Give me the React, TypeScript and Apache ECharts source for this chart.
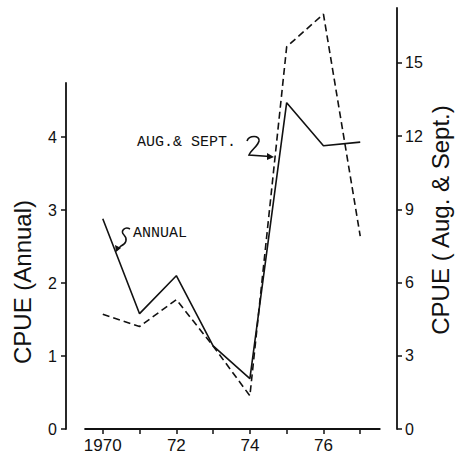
import React, { useEffect, useRef } from "react";
import * as echarts from "echarts";

// ---- data ----
const years = [1970, 1971, 1972, 1973, 1974, 1975, 1976, 1977];
const annual = [2.88, 1.58, 2.1, 1.14, 0.69, 4.47, 3.88, 3.93];
const augSept = [4.7, 4.2, 5.3, 3.4, 1.36, 15.66, 17.0, 7.9];
const xTickYears = [1970, 1971, 1972, 1973, 1974, 1975, 1976, 1977];
const xLabelYears = [1970, 1972, 1974, 1976];
const leftTicks = [0, 1, 2, 3, 4];
const rightTicks = [0, 3, 6, 9, 12, 15];
const xAxisLineSpan = [1969.5, 1977.55];

const INK = "#111";
const SANS = "Liberation Sans, Arial, sans-serif";
const MONO = "Liberation Mono, DejaVu Sans Mono, monospace";

let registered = false;
function registerShapes() {
  if (registered) return;
  registered = true;
  echarts.graphic.registerShape(
    "annualSquiggle",
    echarts.graphic.extendPath(
      "M130,229 C125,226 120,231 124,235 C128,239 126,244 121,246 L117,250",
      {}
    )
  );
  echarts.graphic.registerShape(
    "augSquiggle",
    echarts.graphic.extendPath(
      "M247,141 C249,135 260,135 259,141 C258,146 251,150 249,155 L270,156.5",
      {}
    )
  );
}

export default function App() {
  const ref = useRef<HTMLDivElement>(null);
  useEffect(() => {
    if (!ref.current) return;
    registerShapes();
    const chart = echarts.init(ref.current, undefined, { renderer: "svg" });
    const tickLabel = { color: INK, fontFamily: SANS, fontSize: 16 };
    const option: any = {
      animation: false,
      backgroundColor: "#fff",
      grid: [
        { left: 66, right: 66, top: 83, bottom: 33 },
        { left: 66, right: 66, top: 8, bottom: 33 },
      ],
      xAxis: [
        {
          type: "value",
          gridIndex: 0,
          min: 1969,
          max: 1978,
          axisLine: { show: false },
          splitLine: { show: false },
          axisTick: {
            show: true,
            inside: false,
            length: 5,
            customValues: xTickYears,
            lineStyle: { color: INK, width: 1.5 },
          },
          axisLabel: {
            ...tickLabel,
            fontSize: 17,
            margin: 8,
            customValues: xLabelYears,
            formatter: (v: number) => (v === 1970 ? "1970" : String(v % 100)),
          },
        },
        {
          type: "value",
          gridIndex: 1,
          min: 1969,
          max: 1978,
          show: false,
        },
      ],
      yAxis: [
        {
          type: "value",
          gridIndex: 0,
          position: "left",
          min: 0,
          max: 4.74,
          splitLine: { show: false },
          axisLine: { show: true, lineStyle: { color: INK, width: 1.8 } },
          axisTick: {
            show: true,
            inside: false,
            length: 5,
            customValues: leftTicks,
            lineStyle: { color: INK, width: 1.5 },
          },
          axisLabel: { ...tickLabel, margin: 9, customValues: leftTicks },
        },
        {
          type: "value",
          gridIndex: 1,
          position: "right",
          min: 0,
          max: 17.25,
          splitLine: { show: false },
          axisLine: { show: true, lineStyle: { color: INK, width: 1.8 } },
          axisTick: {
            show: true,
            inside: false,
            length: 5,
            customValues: rightTicks,
            lineStyle: { color: INK, width: 1.5 },
          },
          axisLabel: { ...tickLabel, margin: 8, customValues: rightTicks },
        },
      ],
      series: [
        {
          name: "x axis",
          type: "line",
          xAxisIndex: 0,
          yAxisIndex: 0,
          data: xAxisLineSpan.map((x) => [x, 0]),
          symbol: "none",
          clip: false,
          silent: true,
          lineStyle: { color: INK, width: 1.8 },
        },
        {
          name: "Annual",
          type: "line",
          xAxisIndex: 0,
          yAxisIndex: 0,
          data: years.map((y, i) => [y, annual[i]]),
          symbol: "none",
          clip: false,
          lineStyle: { color: INK, width: 1.6, type: "solid" },
        },
        {
          name: "Aug. & Sept.",
          type: "line",
          xAxisIndex: 1,
          yAxisIndex: 1,
          data: years.map((y, i) => [y, augSept[i]]),
          symbol: "none",
          clip: false,
          lineStyle: { color: INK, width: 1.6, type: [7, 4] },
        },
      ],
      graphic: [
        {
          type: "text",
          x: 22,
          y: 282,
          rotation: Math.PI / 2,
          style: {
            text: "CPUE (Annual)",
            fill: INK,
            font: `24px ${SANS}`,
            align: "center",
            verticalAlign: "middle",
          },
        },
        {
          type: "text",
          x: 440,
          y: 220,
          rotation: Math.PI / 2,
          style: {
            text: "CPUE ( Aug. & Sept.)",
            fill: INK,
            font: `24px ${SANS}`,
            align: "center",
            verticalAlign: "middle",
          },
        },
        {
          type: "text",
          x: 133,
          y: 233,
          style: {
            text: "ANNUAL",
            fill: INK,
            font: `15px ${MONO}`,
            align: "left",
            verticalAlign: "middle",
          },
        },
        {
          type: "text",
          x: 137,
          y: 142,
          style: {
            text: "AUG.& SEPT.",
            fill: INK,
            font: `15px ${MONO}`,
            align: "left",
            verticalAlign: "middle",
          },
        },
        {
          type: "annualSquiggle",
          x: 0,
          y: 0,
          style: { stroke: INK, fill: "none", lineWidth: 1.5 },
        },
        {
          type: "polygon",
          shape: { points: [[116, 252], [115, 245], [121, 248]] },
          style: { fill: INK },
        },
        {
          type: "augSquiggle",
          x: 0,
          y: 0,
          style: { stroke: INK, fill: "none", lineWidth: 1.6 },
        },
        {
          type: "polygon",
          shape: { points: [[274, 157], [267, 153], [267, 160]] },
          style: { fill: INK },
        },
      ],
    };
    chart.setOption(option);
    return () => chart.dispose();
  }, []);
  return (
    <div
      ref={ref}
      style={{ position: "fixed", left: 0, top: 0, width: 463, height: 462 }}
    />
  );
}
